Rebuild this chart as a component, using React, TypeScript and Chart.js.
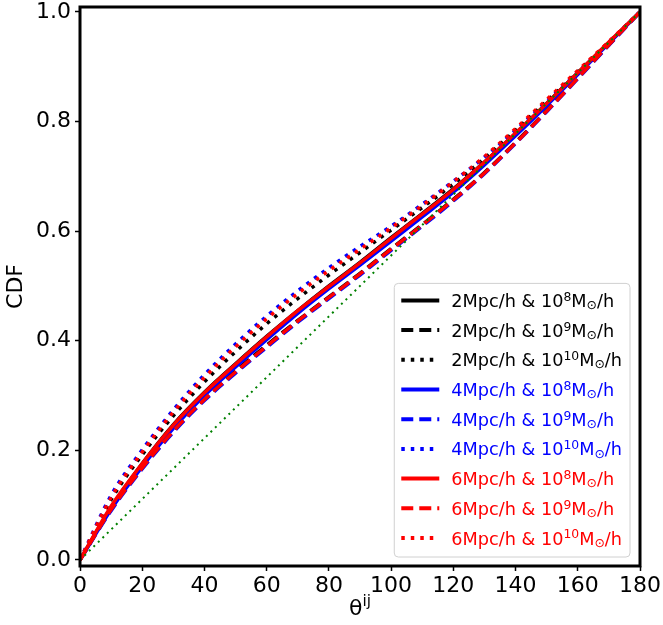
import { useEffect, useRef } from 'react';
import { Chart, registerables } from 'chart.js';

Chart.register(...registerables);

// ---------------- data ----------------
const thetaDeg = [0, 10, 20, 30, 40, 50, 60, 70, 80, 90, 100, 110, 120, 130, 140, 150, 160, 170, 180];

const cdf2Mpc_m8 = [0, 0.096, 0.176, 0.247, 0.306, 0.358, 0.408, 0.455, 0.500, 0.543, 0.588, 0.632, 0.677, 0.726, 0.778, 0.833, 0.889, 0.944, 1];
const cdf2Mpc_m9 = [0, 0.093, 0.170, 0.237, 0.295, 0.345, 0.392, 0.437, 0.480, 0.523, 0.568, 0.612, 0.658, 0.707, 0.762, 0.820, 0.880, 0.940, 1];
const cdf2Mpc_m10 = [0, 0.110, 0.192, 0.263, 0.325, 0.380, 0.431, 0.477, 0.520, 0.561, 0.602, 0.643, 0.686, 0.733, 0.784, 0.837, 0.891, 0.945, 1];
const cdf4Mpc_m8 = [0, 0.092, 0.170, 0.240, 0.300, 0.352, 0.402, 0.450, 0.495, 0.538, 0.582, 0.626, 0.671, 0.721, 0.774, 0.829, 0.886, 0.943, 1];
const cdf4Mpc_m9 = [0, 0.090, 0.166, 0.233, 0.291, 0.341, 0.388, 0.434, 0.477, 0.520, 0.565, 0.609, 0.655, 0.705, 0.760, 0.818, 0.878, 0.939, 1];
const cdf4Mpc_m10 = [0, 0.118, 0.201, 0.274, 0.338, 0.394, 0.445, 0.491, 0.533, 0.572, 0.609, 0.649, 0.691, 0.735, 0.784, 0.837, 0.890, 0.945, 1];
const cdf6Mpc_m8 = [0, 0.098, 0.176, 0.246, 0.305, 0.357, 0.407, 0.455, 0.499, 0.542, 0.587, 0.631, 0.676, 0.726, 0.779, 0.833, 0.889, 0.945, 1];
const cdf6Mpc_m9 = [0, 0.092, 0.168, 0.235, 0.293, 0.343, 0.390, 0.436, 0.479, 0.522, 0.567, 0.611, 0.657, 0.706, 0.761, 0.819, 0.879, 0.940, 1];
const cdf6Mpc_m10 = [0, 0.114, 0.197, 0.270, 0.333, 0.389, 0.440, 0.486, 0.528, 0.567, 0.606, 0.647, 0.690, 0.736, 0.787, 0.840, 0.893, 0.946, 1];

const seriesScale = ['2', '2', '2', '4', '4', '4', '6', '6', '6'];
const seriesMassExp = ['8', '9', '10', '8', '9', '10', '8', '9', '10'];
const seriesValues = [
  cdf2Mpc_m8, cdf2Mpc_m9, cdf2Mpc_m10,
  cdf4Mpc_m8, cdf4Mpc_m9, cdf4Mpc_m10,
  cdf6Mpc_m8, cdf6Mpc_m9, cdf6Mpc_m10,
];

const uniformX = [0, 180];
const uniformY = [0, 1];

const xTicks = [0, 20, 40, 60, 80, 100, 120, 140, 160, 180];
const yTicks = [0, 0.2, 0.4, 0.6, 0.8, 1.0];

// ---------------- styles ----------------
const FONT = '"DejaVu Sans", sans-serif';
const colorByScale: Record<string, string> = { '2': '#000000', '4': '#0000ff', '6': '#ff0000' };
const dashByMass: Record<string, number[]> = { '8': [], '9': [12, 6], '10': [3.5, 6] };
const orderByScale: Record<string, number> = { '2': 7, '4': 4, '6': 1 };
const orderByMass: Record<string, number> = { '8': 0, '9': 1, '10': 2 };

const LW = 3.5;

const legendPlugin = {
  id: 'mplDecor',
  afterDatasetsDraw(chart: any) {
    const { ctx, chartArea } = chart;
    ctx.save();
    ctx.strokeStyle = '#000';
    ctx.lineWidth = 3;
    ctx.strokeRect(chartArea.left, chartArea.top, chartArea.right - chartArea.left, chartArea.bottom - chartArea.top);
    ctx.restore();
  },
  afterDraw(chart: any) {
    const { ctx, chartArea } = chart;
    const fs = 17.7;
    const sfs = fs * 0.7;
    const nFont = `${fs}px ${FONT}`;
    const sFont = `${sfs}px ${FONT}`;
    ctx.save();
    const rows = seriesScale.map((s, i) => ({
      parts: [
        { t: `${s}Mpc/h & 10`, k: 'n' },
        { t: seriesMassExp[i], k: 'sup' },
        { t: 'M', k: 'n' },
        { t: '\u2299', k: 'sub' },
        { t: '/h', k: 'n' },
      ],
      color: colorByScale[s],
      dash: dashByMass[seriesMassExp[i]],
    }));
    const measure = (parts: any[]) => {
      let w = 0;
      for (const p of parts) {
        ctx.font = p.k === 'n' ? nFont : sFont;
        w += ctx.measureText(p.t).width;
      }
      return w;
    };
    const maxW = Math.max(...rows.map((r) => measure(r.parts)));
    const padL = 7, lineLen = 38, gap = 12, padR = 8;
    const rowH = 29.7, padT = 17, padB = 19;
    const boxW = padL + lineLen + gap + maxW + padR;
    const boxH = padT + rowH * (rows.length - 1) + padB;
    const bx = chartArea.right - 10 - boxW;
    const by = chartArea.bottom - 9 - boxH;
    ctx.beginPath();
    if (ctx.roundRect) ctx.roundRect(bx, by, boxW, boxH, 4);
    else ctx.rect(bx, by, boxW, boxH);
    ctx.fillStyle = 'rgba(255,255,255,0.8)';
    ctx.fill();
    ctx.strokeStyle = '#d0d0d0';
    ctx.lineWidth = 1;
    ctx.stroke();
    rows.forEach((r, i) => {
      const ly = by + padT + i * rowH;
      ctx.beginPath();
      ctx.setLineDash(r.dash);
      ctx.strokeStyle = r.color;
      ctx.lineWidth = 4;
      ctx.lineCap = 'butt';
      ctx.moveTo(bx + padL, ly);
      ctx.lineTo(bx + padL + lineLen, ly);
      ctx.stroke();
      ctx.setLineDash([]);
      let tx = bx + padL + lineLen + gap;
      const base = ly + 6.5;
      ctx.fillStyle = r.color;
      ctx.textBaseline = 'alphabetic';
      ctx.textAlign = 'left';
      for (const p of r.parts) {
        ctx.font = p.k === 'n' ? nFont : sFont;
        const yy = p.k === 'sup' ? base - fs * 0.34 : p.k === 'sub' ? base + fs * 0.12 : base;
        ctx.fillText(p.t, tx, yy);
        tx += ctx.measureText(p.t).width;
      }
    });
    // x-axis title θ^ij
    const tfs = 22;
    ctx.fillStyle = '#000';
    ctx.font = `${tfs}px ${FONT}`;
    const w1 = ctx.measureText('\u03b8').width;
    ctx.font = `${tfs * 0.7}px ${FONT}`;
    const w2 = ctx.measureText('ij').width;
    const cx = (chartArea.left + chartArea.right) / 2;
    const startX = cx - (w1 + w2) / 2;
    const tb = 615;
    ctx.font = `${tfs}px ${FONT}`;
    ctx.fillText('\u03b8', startX, tb);
    ctx.font = `${tfs * 0.7}px ${FONT}`;
    ctx.fillText('ij', startX + w1, tb - tfs * 0.4);
    ctx.restore();
  },
};

export default function App() {
  const ref = useRef<HTMLCanvasElement>(null);
  useEffect(() => {
    document.body.style.margin = '0';
    const datasets: any[] = seriesValues.map((vals, i) => ({
      label: `${seriesScale[i]}Mpc/h & 10^${seriesMassExp[i]}M\u2299/h`,
      data: thetaDeg.map((x, j) => ({ x, y: vals[j] })),
      borderColor: colorByScale[seriesScale[i]],
      borderDash: dashByMass[seriesMassExp[i]],
      borderWidth: LW,
      pointRadius: 0,
      fill: false,
      cubicInterpolationMode: 'monotone',
      order: orderByScale[seriesScale[i]] + orderByMass[seriesMassExp[i]],
    }));
    datasets.push({
      label: 'uniform',
      data: uniformX.map((x, j) => ({ x, y: uniformY[j] })),
      borderColor: '#008000',
      borderDash: [2, 4.3],
      borderWidth: 2,
      pointRadius: 0,
      fill: false,
      order: 0,
    });
    const chart = new Chart(ref.current!, {
      type: 'line',
      data: { datasets },
      plugins: [legendPlugin],
      options: {
        responsive: false,
        animation: false,
        layout: { padding: { top: 7, right: 23, left: 0, bottom: 0 } },
        plugins: { legend: { display: false }, tooltip: { enabled: false } },
        scales: {
          x: {
            type: 'linear',
            min: 0,
            max: 180,
            afterBuildTicks: (axis: any) => {
              axis.ticks = xTicks.map((v) => ({ value: v }));
            },
            ticks: { color: '#000', font: { family: FONT, size: 22 }, padding: 2, maxRotation: 0, autoSkip: false },
            grid: { drawOnChartArea: false, drawTicks: true, tickLength: 5, tickWidth: 1.5, tickColor: '#000' },
            border: { display: false },
            afterFit: (s: any) => {
              s.height = 59;
              s.paddingLeft = 0;
              s.paddingRight = 0;
            },
          },
          y: {
            type: 'linear',
            min: -0.011,
            max: 1.009,
            afterBuildTicks: (axis: any) => {
              axis.ticks = yTicks.map((v) => ({ value: v }));
            },
            ticks: {
              color: '#000',
              font: { family: FONT, size: 22 },
              padding: 4,
              autoSkip: false,
              callback: (v: any) => Number(v).toFixed(1),
            },
            grid: { drawOnChartArea: false, drawTicks: true, tickLength: 5, tickWidth: 1.5, tickColor: '#000' },
            border: { display: false },
            title: { display: true, text: 'CDF', color: '#000', font: { family: FONT, size: 22 }, padding: { top: 3, bottom: 0 } },
            afterFit: (s: any) => {
              s.width = 80;
              s.paddingTop = 0;
              s.paddingBottom = 0;
            },
          },
        },
      },
    });
    return () => chart.destroy();
  }, []);
  return <canvas ref={ref} width={663} height={625} style={{ display: 'block' }} />;
}
